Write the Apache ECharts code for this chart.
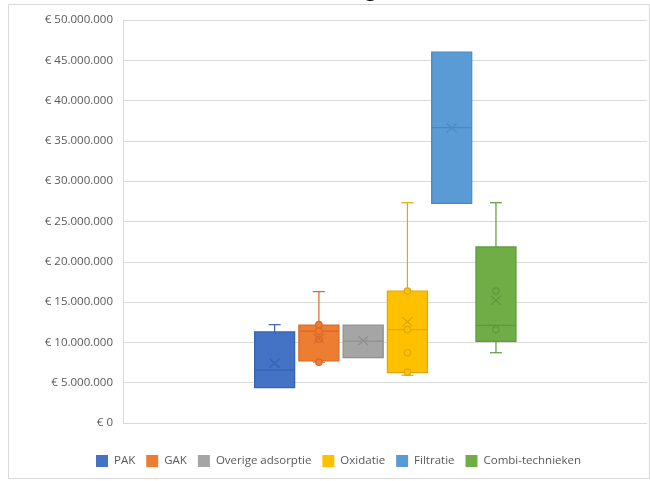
<!DOCTYPE html>
<html>
<head>
<meta charset="utf-8">
<script src="https://cdn.jsdelivr.net/npm/echarts@6/dist/echarts.min.js"></script>
<style>
  html, body { margin: 0; padding: 0; background: #fff; }
  #chart { width: 650px; height: 481px; }
</style>
</head>
<body>
<div id="chart"></div>
<script>
// Investment cost ranges per treatment technique (euro)
const techniques = ['PAK', 'GAK', 'Overige adsorptie', 'Oxidatie', 'Filtratie', 'Combi-technieken'];

// Five-number summaries per technique: [min, Q1, median, Q3, max]
const pakStats      = [4380000, 4380000, 6550000, 11300000, 12200000];
const gakStats      = [7550000, 7690000, 11400000, 12160000, 16300000];
const overigeStats  = [8100000, 8100000, 10170000, 12160000, 12160000];
const oxidatieStats = [5920000, 6240000, 11580000, 16380000, 27330000];
const filtratieStats = [27260000, 27260000, 36640000, 46030000, 46030000];
const combiStats    = [8720000, 10130000, 12120000, 21840000, 27330000];

// Mean per technique
const means = [7410000, 10500000, 10200000, 12570000, 36620000, 15220000];

// Individual values lying inside the whiskers
const innerPoints = [
  [],
  [12200000, 11400000, 10400000, 7550000],
  [],
  [16380000, 11580000, 8720000, 6330000],
  [],
  [16380000, 11580000]
];

// Value axis tick labels (every 5 million)
const yTickLabels = ['€ 0', '€ 5.000.000', '€ 10.000.000', '€ 15.000.000', '€ 20.000.000',
  '€ 25.000.000', '€ 30.000.000', '€ 35.000.000', '€ 40.000.000', '€ 45.000.000', '€ 50.000.000'];

const allStats = [pakStats, gakStats, overigeStats, oxidatieStats, filtratieStats, combiStats];
const fillColors = ['#4472C4', '#ED7D31', '#A5A5A5', '#FFC000', '#5B9BD5', '#70AD47'];
const lineColors = ['#3562B0', '#D5692A', '#8F8F8F', '#E0A800', '#4A88C0', '#5C9A3A'];

const Y_MAX = 50000000;
const Y_STEP = 5000000;

function renderBox(params, api) {
  const s = params.seriesIndex;
  const idx = api.value(0);
  const min = api.value(1), q1 = api.value(2), med = api.value(3), q3 = api.value(4), max = api.value(5), mean = api.value(6);
  const cx = api.coord([idx, 0])[0];
  const band = api.size([1, 0])[0];
  const w = band * 0.905;
  const py = v => api.coord([idx, v])[1];
  const fill = fillColors[s], stroke = lineColors[s];
  const lineStyle = { stroke: stroke, lineWidth: 1.2 };
  const children = [];
  const cap = 6;
  if (max > q3) {
    children.push({ type: 'line', shape: { x1: cx, y1: py(q3), x2: cx, y2: py(max) }, style: lineStyle });
    children.push({ type: 'line', shape: { x1: cx - cap, y1: py(max), x2: cx + cap, y2: py(max) }, style: lineStyle });
  }
  if (min < q1) {
    children.push({ type: 'line', shape: { x1: cx, y1: py(q1), x2: cx, y2: py(min) }, style: lineStyle });
    children.push({ type: 'line', shape: { x1: cx - cap, y1: py(min), x2: cx + cap, y2: py(min) }, style: lineStyle });
  }
  children.push({
    type: 'rect',
    shape: { x: cx - w / 2, y: py(q3), width: w, height: py(q1) - py(q3) },
    style: { fill: fill, stroke: stroke, lineWidth: 1.2 }
  });
  children.push({ type: 'line', shape: { x1: cx - w / 2, y1: py(med), x2: cx + w / 2, y2: py(med) }, style: lineStyle });
  innerPoints[s].forEach(v => {
    children.push({ type: 'circle', shape: { cx: cx, cy: py(v), r: 3.2 }, style: { fill: fill, stroke: stroke, lineWidth: 1.2 } });
  });
  const my = py(mean);
  children.push({ type: 'line', shape: { x1: cx - 5, y1: my - 4.5, x2: cx + 5, y2: my + 4.5 }, style: lineStyle });
  children.push({ type: 'line', shape: { x1: cx - 5, y1: my + 4.5, x2: cx + 5, y2: my - 4.5 }, style: lineStyle });
  return { type: 'group', children: children };
}

const chart = echarts.init(document.getElementById('chart'), null, { renderer: 'canvas' });

const boxSeries = techniques.map((name, i) => ({
  name: name,
  type: 'custom',
  xAxisIndex: 1,
  yAxisIndex: 1,
  itemStyle: { color: fillColors[i] },
  renderItem: renderBox,
  encode: { x: 0, y: [1, 2, 3, 4, 5] },
  data: [[i].concat(allStats[i], [means[i]])],
  z: 3
}));

chart.setOption({
  animation: false,
  textStyle: { fontFamily: 'Open Sans' },
  graphic: [
    {
      type: 'rect',
      shape: { x: 8.5, y: 4.5, width: 641, height: 474 },
      style: { fill: 'none', stroke: '#d9d9d9', lineWidth: 1 },
      silent: true
    },
    {
      type: 'text',
      x: 365,
      y: -20.3,
      style: { text: 'g', font: '21px "Open Sans"', fill: '#000' },
      silent: true,
      z: 10
    }
  ],
  legend: {
    data: techniques,
    left: 91,
    top: 450,
    icon: 'rect',
    itemWidth: 12,
    itemHeight: 12,
    itemGap: 11,
    textStyle: { color: '#595959', fontSize: 11.5, fontFamily: 'Open Sans', padding: [0, 0, 0, 1] }
  },
  grid: [
    { left: 123, right: 3, top: 20, bottom: 58 },
    { left: 252.5, width: 265.6, top: 20, bottom: 58 }
  ],
  xAxis: [
    { gridIndex: 0, type: 'category', data: [''], show: false },
    { gridIndex: 1, type: 'category', data: techniques, show: false, boundaryGap: true }
  ],
  yAxis: [
    {
      gridIndex: 0,
      type: 'value',
      min: 0,
      max: Y_MAX,
      interval: Y_STEP,
      axisLine: { show: true, lineStyle: { color: '#d9d9d9' } },
      axisTick: { show: false },
      splitLine: { lineStyle: { color: '#d9d9d9', width: 1 } },
      axisLabel: {
        color: '#595959',
        fontSize: 11.5,
        margin: 10,
        fontFamily: 'Open Sans',
        formatter: v => yTickLabels[Math.round(v / Y_STEP)]
      }
    },
    { gridIndex: 1, type: 'value', min: 0, max: Y_MAX, show: false }
  ],
  series: boxSeries
});
</script>
</body>
</html>
